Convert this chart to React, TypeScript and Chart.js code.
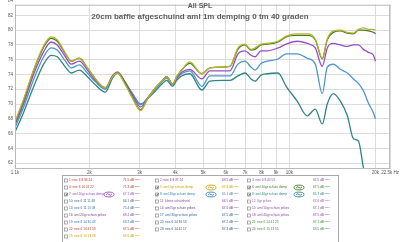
import React, { useEffect, useRef } from "react";
import { Chart, registerables } from "chart.js";

Chart.register(...registerables);

// Frequency grid (Hz) shared by all measured curves
const freqHz = [
  1100, 1180, 1280, 1390, 1470, 1545, 1650, 1730, 1845, 1970, 2100, 2275, 2410,
  2510, 2655, 2830, 3020, 3195, 3410, 3610, 3725, 3910, 4040, 4205, 4490, 4945,
  5275, 5810, 6200, 6615, 7000, 7345, 7585, 7960, 8355, 9135, 9745, 10650,
  11545, 12320, 13035, 13570, 14245, 15075, 15950, 16745, 17435, 18150, 18900,
  19680, 20000,
];

// SPL (dB) per measurement angle
const aml0 = [
  67.6, 70.7, 74.7, 78.0, 79.1, 78.7, 76.9, 75.8, 76.2, 74.9, 73.4, 72.2, 73.7,
  74.2, 72.8, 70.8, 69.1, 70.7, 72.2, 73.2, 73.7, 72.7, 73.7, 74.6, 75.7, 74.1,
  74.9, 75.0, 75.1, 77.6, 78.1, 77.4, 77.6, 78.1, 78.2, 78.5, 79.2, 79.5, 79.5,
  78.8, 76.2, 78.8, 79.9, 80.0, 79.7, 79.6, 80.1, 80.3, 80.1, 80.1, 80.0,
];
const aml10 = [
  67.4, 70.5, 74.6, 77.8, 78.9, 78.5, 76.8, 75.8, 76.2, 74.9, 73.4, 72.2, 73.7,
  74.2, 73.0, 70.9, 69.2, 70.7, 72.2, 73.2, 73.7, 72.7, 73.7, 74.6, 75.5, 74.1,
  74.9, 75.0, 75.1, 77.4, 78.0, 77.3, 77.4, 78.0, 78.1, 78.4, 79.1, 79.3, 79.3,
  78.7, 76.1, 78.7, 79.7, 79.9, 79.6, 79.5, 80.0, 80.0, 79.9, 79.7, 79.5,
];
const aml20 = [
  67.2, 70.1, 74.1, 77.2, 78.4, 78.0, 76.4, 75.4, 75.8, 74.6, 73.2, 72.2, 73.8,
  74.3, 73.1, 71.2, 69.6, 70.8, 72.2, 73.2, 73.7, 72.7, 73.5, 74.3, 74.7, 73.4,
  74.5, 74.5, 74.5, 76.8, 77.2, 76.6, 76.4, 77.2, 77.2, 77.6, 78.1, 78.5, 78.2,
  77.6, 75.1, 77.6, 78.2, 78.0, 77.8, 78.0, 78.0, 77.4, 77.0, 76.6, 75.8,
];
const aml30 = [
  66.8, 69.6, 73.4, 76.5, 77.6, 77.3, 75.8, 74.9, 75.3, 74.2, 73.0, 72.0, 73.8,
  74.3, 73.1, 71.4, 69.9, 70.8, 72.0, 73.1, 73.5, 72.6, 73.4, 74.1, 74.5, 72.4,
  73.8, 73.8, 73.8, 75.4, 75.8, 75.0, 74.6, 75.5, 75.8, 76.1, 76.8, 76.8, 76.2,
  75.4, 71.4, 75.0, 75.4, 74.7, 74.2, 73.4, 72.8, 71.8, 70.1, 68.8, 68.0,
];
const aml40 = [
  66.2, 68.9, 72.4, 75.5, 76.6, 76.4, 75.0, 74.2, 74.6, 73.7, 72.6, 71.6, 73.5,
  74.2, 73.0, 71.4, 70.0, 70.7, 71.8, 72.8, 73.2, 72.4, 73.2, 73.8, 74.1, 71.9,
  73.1, 73.2, 73.2, 73.8, 74.2, 73.4, 73.1, 73.9, 74.1, 74.2, 72.4, 70.4, 68.4,
  69.3, 67.3, 70.0, 71.4, 70.4, 68.4, 65.3, 65.0, 61.4, 58.9, 56.9, 55.5,
];

const seriesLabels = [
  "5: aml 0gr schuin demp",
  "6: aml 10gr schuin demp",
  "7: aml 20gr schuin demp",
  "8: aml 30gr schuin demp",
  "9: aml 40gr schuin demp",
];
const seriesColors = ["#bab12c", "#3f7f2a", "#9a4dc4", "#4e96cc", "#2f8487"];

const xTicks = [1100, 2000, 3000, 4000, 5000, 6000, 7000, 8000, 9000, 10000, 20000, 22500];
const xTickLabels = ["1.1k", "2k", "3k", "4k", "5k", "6k", "7k", "8k", "9k", "10k", "20k", "22.5k Hz"];
const yTicks = [62, 64, 66, 68, 70, 72, 74, 76, 78, 80, 82, 84];

const graphTitle = "All SPL";
const graphSubtitle = "20cm baffle afgeschuind aml 1m demping 0 tm 40 graden";

// Overlay list entries
const overlayNames = [
  "1: nee 6 8 36 24", "2: nee 6 8 37 24", "3: nee 6 8 40 53",
  "4: nee 6 10 01 22", "5: aml 0gr schuin demp", "6: aml 10gr schuin demp",
  "7: aml 20gr schuin demp", "8: aml 30gr schuin demp", "9: aml 40gr schuin demp",
  "10: nee 6 11 11 48", "11: kleine schuinheid", "12: 0gr prikes",
  "13: nee 6 11 15 08", "14: aml 5gr schuin prikes", "15: aml 10gr schuin prikes",
  "16: aml 20gr schuin prikes", "17: aml 30gr schuin prikes", "18: aml 40gr schuin prikes",
  "19: nee 6 14 30 43", "20: nee 6 14 36 53", "21: nee 6 14 41 23",
  "22: nee 6 14 41 59", "23: nee 6 14 42 17", "24: nee 6 15 13 55",
  "25: nee 6 15 13 28",
];
const overlayLevels = [
  71.5, 69.5, 67.5, 71.3, 67.6, 67.5, 67.1, 65.1, 65.7, 66.1, 66.5, 67.6, 75.4,
  67.6, 67.1, 69.2, 67.5, 67.5, 69.2, 67.2, 67.2, 67.5, 67.3, 69.5, 69.5,
];
const overlayColors = [
  "#c0392b", "#8b3a8b", "#7b52ab", "#c0392b", "#c9a200", "#3f7f2a", "#9a4dc4",
  "#3a7fc0", "#2f8487", "#3f5f8f", "#8e44ad", "#9b59b6", "#2f6fb0", "#6a3d9a",
  "#8e44ad", "#7d3c98", "#2e5c9a", "#8e44ad", "#2c6fbb", "#2d5aa0", "#3a8a3a",
  "#c0392b", "#2d4f8f", "#3a8a3a", "#c9a200",
];
const overlayChecked = [5, 6, 7, 8, 9];

const FONT = '"Liberation Sans", Arial, sans-serif';

function drawOverlayList(ctx: CanvasRenderingContext2D) {
  const boxX = 62, boxY = 175, boxW = 276, boxH = 70;
  const groupX = [64, 155, 247];
  const iconX = [104, 206, 294];
  const valueX = [123, 222, 313];
  ctx.fillStyle = "#ffffff";
  ctx.fillRect(boxX, boxY, boxW, boxH);
  ctx.strokeStyle = "#a9a9a9";
  ctx.lineWidth = 1;
  ctx.strokeRect(boxX + 0.5, boxY + 0.5, boxW, boxH);
  ctx.textBaseline = "middle";
  ctx.textAlign = "left";
  overlayNames.forEach((name, i) => {
    const row = Math.floor(i / 3);
    const col = i % 3;
    const y = 180.5 + row * 7;
    const gx = groupX[col];
    const num = i + 1;
    const on = overlayChecked.includes(num);
    ctx.strokeStyle = "#8c8c8c";
    ctx.lineWidth = 0.7;
    ctx.strokeRect(gx + 0.5, y - 1.5, 3, 3);
    if (on) {
      ctx.strokeStyle = "#333";
      ctx.beginPath();
      ctx.moveTo(gx + 1, y);
      ctx.lineTo(gx + 2, y + 1);
      ctx.lineTo(gx + 3.4, y - 1.2);
      ctx.stroke();
    }
    ctx.fillStyle = overlayColors[i];
    ctx.font = `3.2px ${FONT}`;
    ctx.fillText(name, gx + 5, y);
    if (on) {
      const ix = iconX[col];
      ctx.strokeStyle = overlayColors[i];
      ctx.lineWidth = 0.9;
      ctx.beginPath();
      ctx.ellipse(ix + 5, y, 5, 2.4, 0, 0, Math.PI * 2);
      ctx.stroke();
      ctx.beginPath();
      ctx.moveTo(ix + 2, y + 0.6);
      ctx.quadraticCurveTo(ix + 3.5, y - 1.6, ix + 5, y);
      ctx.quadraticCurveTo(ix + 6.5, y + 1.6, ix + 8, y - 0.6);
      ctx.stroke();
    }
    const level = `${overlayLevels[i].toFixed(1)} dB`;
    ctx.fillText(level, valueX[col], y);
    const w = ctx.measureText(level).width;
    ctx.font = `2.2px ${FONT}`;
    ctx.fillText("(SPL)", valueX[col] + w + 0.6, y - 0.9);
  });
}

const decorPlugin = {
  id: "splDecor",
  afterDraw(chart: any) {
    const { ctx, chartArea: a } = chart;
    ctx.save();
    ctx.strokeStyle = "#b9b9b9";
    ctx.lineWidth = 1;
    ctx.strokeRect(a.left + 0.5, a.top + 0.5, a.right - a.left - 1, a.bottom - a.top - 1);
    ctx.fillStyle = "#5e5e5e";
    ctx.textAlign = "center";
    ctx.textBaseline = "middle";
    ctx.font = `bold 7px ${FONT}`;
    ctx.fillText(graphTitle, 200, 6);
    ctx.font = `bold 8px ${FONT}`;
    ctx.fillText(graphSubtitle, 200, 17);
    drawOverlayList(ctx);
    ctx.restore();
  },
};

export default function App() {
  const canvasRef = useRef<HTMLCanvasElement | null>(null);

  useEffect(() => {
    const canvas = canvasRef.current;
    if (!canvas) return;
    const series = [aml0, aml10, aml20, aml30, aml40];
    const chart = new Chart(canvas, {
      type: "line",
      data: {
        datasets: series.map((vals, k) => ({
          label: seriesLabels[k],
          data: freqHz.map((f, i) => ({ x: f, y: vals[i] })),
          borderColor: seriesColors[k],
          backgroundColor: seriesColors[k],
          borderWidth: 1.3,
          pointRadius: 0,
          cubicInterpolationMode: "monotone" as const,
          fill: false,
        })),
      },
      options: {
        responsive: false,
        animation: false,
        devicePixelRatio: 1,
        layout: { padding: { top: 4, right: 8, left: 0, bottom: 0 } },
        plugins: {
          legend: { display: false },
          title: { display: false },
          tooltip: { enabled: false },
        },
        scales: {
          x: {
            type: "logarithmic",
            min: 1100,
            max: 22500,
            afterBuildTicks: (s: any) => {
              s.ticks = xTicks.map((v) => ({ value: v }));
            },
            afterFit: (s: any) => {
              s.height = 73;
            },
            ticks: {
              autoSkip: false,
              maxRotation: 0,
              minRotation: 0,
              padding: 1,
              color: "#555",
              font: { size: 4.5, family: FONT },
              callback: (_v: any, i: number) => xTickLabels[i],
            },
            grid: { color: "#dcdcdc", drawTicks: false, lineWidth: 1 },
            border: { display: false },
          },
          y: {
            type: "linear",
            min: 61.2,
            max: 83.45,
            afterBuildTicks: (s: any) => {
              s.ticks = yTicks.map((v) => ({ value: v }));
            },
            afterFit: (s: any) => {
              s.width = 15;
            },
            ticks: {
              autoSkip: false,
              padding: 2,
              color: "#555",
              font: { size: 4.5, family: FONT },
              callback: (v: any) => String(v),
            },
            grid: {
              drawTicks: false,
              lineWidth: 1,
              color: (c: any) =>
                c.tick && c.tick.value > 83.45 ? "rgba(0,0,0,0)" : "#dcdcdc",
            },
            border: { display: false },
          },
        },
      },
      plugins: [decorPlugin],
    });
    return () => chart.destroy();
  }, []);

  return (
    <div
      style={{
        position: "fixed",
        left: 0,
        top: 0,
        width: 400,
        height: 242,
        background: "#ffffff",
      }}
    >
      <canvas
        ref={canvasRef}
        width={400}
        height={242}
        style={{ display: "block", width: 400, height: 242 }}
      />
    </div>
  );
}
